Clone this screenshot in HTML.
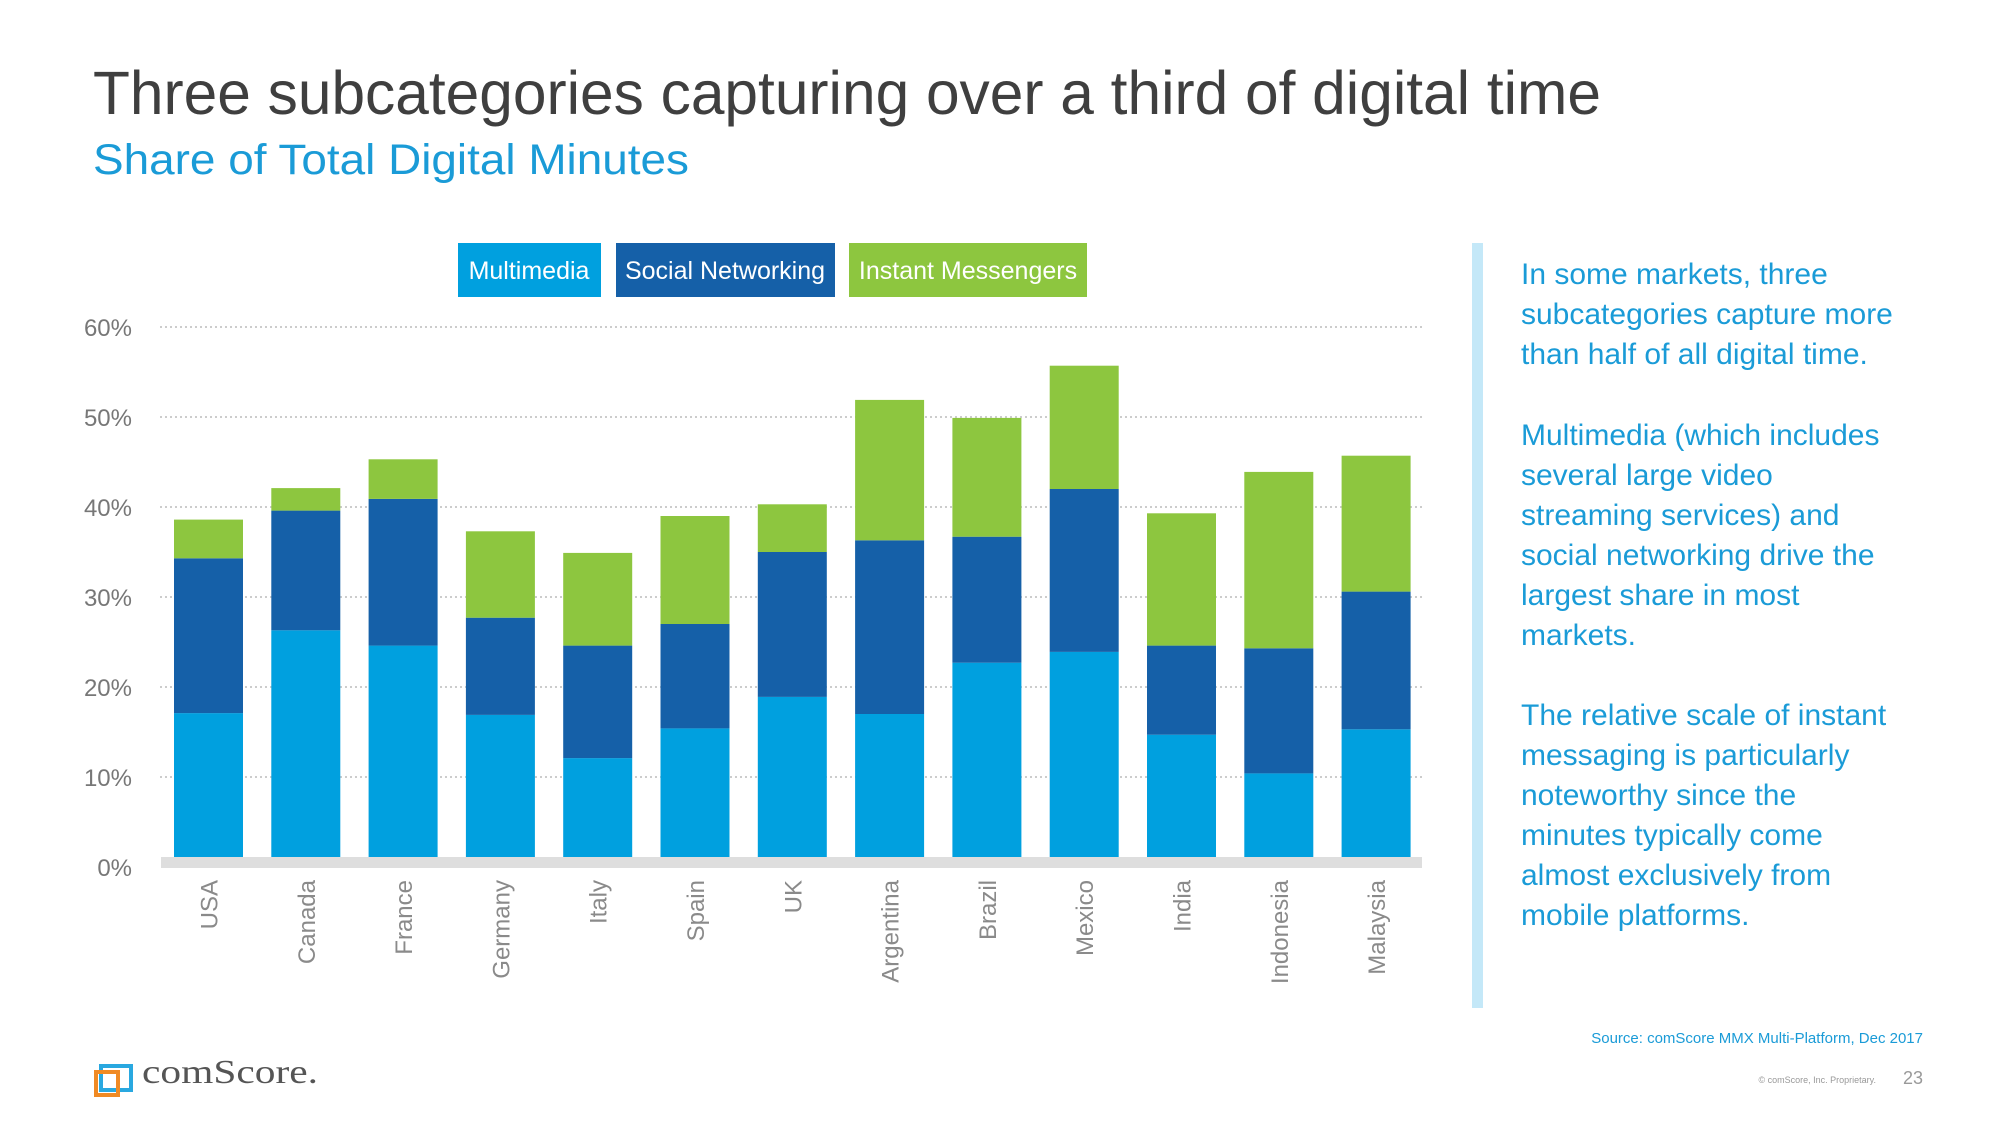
<!DOCTYPE html>
<html><head><meta charset="utf-8"><style>
html,body{margin:0;padding:0;background:#fff;}
svg{display:block;font-family:"Liberation Sans",sans-serif;}
</style></head><body>
<svg id="chart" width="2000" height="1125" viewBox="0 0 2000 1125">
<text x="93" y="114" font-size="61" fill="#3f3f3f" textLength="1508" lengthAdjust="spacingAndGlyphs">Three subcategories capturing over a third of digital time</text>
<text x="93" y="174" font-size="43" fill="#1a9bd7" textLength="596" lengthAdjust="spacingAndGlyphs">Share of Total Digital Minutes</text>
<g>
<rect x="458" y="243" width="143" height="54" fill="#00a0df"/>
<text x="529" y="279" font-size="25" fill="#fff" text-anchor="middle">Multimedia</text>
<rect x="616" y="243" width="219" height="54" fill="#1560a8"/>
<text x="725" y="279" font-size="25" fill="#fff" text-anchor="middle">Social Networking</text>
<rect x="849" y="243" width="238" height="54" fill="#8dc63f"/>
<text x="968" y="279" font-size="25" fill="#fff" text-anchor="middle">Instant Messengers</text>
</g>
<g id="grid"></g><g id="bars"></g><g id="labels"></g>
<rect x="1472" y="243" width="11" height="765" fill="#c4e8f8"/>
<g font-size="30" fill="#1a9bd7">
<text x="1521" y="284">In some markets, three</text>
<text x="1521" y="324">subcategories capture more</text>
<text x="1521" y="364">than half of all digital time.</text>
<text x="1521" y="445">Multimedia (which includes</text>
<text x="1521" y="485">several large video</text>
<text x="1521" y="525">streaming services) and</text>
<text x="1521" y="565">social networking drive the</text>
<text x="1521" y="605">largest share in most</text>
<text x="1521" y="645">markets.</text>
<text x="1521" y="725">The relative scale of instant</text>
<text x="1521" y="765">messaging is particularly</text>
<text x="1521" y="805">noteworthy since the</text>
<text x="1521" y="845">minutes typically come</text>
<text x="1521" y="885">almost exclusively from</text>
<text x="1521" y="925">mobile platforms.</text>
</g>
<text x="1923" y="1043" font-size="15" fill="#1a9bd7" text-anchor="end">Source: comScore MMX Multi-Platform, Dec 2017</text>
<text x="1876" y="1083" font-size="9" fill="#999" text-anchor="end">© comScore, Inc. Proprietary.</text>
<text x="1923" y="1084" font-size="18" fill="#999" text-anchor="end">23</text>
<g>
<path d="M101 1066 h30 v24 h-30 z" fill="none" stroke="#29a8e0" stroke-width="4"/>
<path d="M96 1072 h22 v23 h-22 z" fill="none" stroke="#f08a24" stroke-width="4"/>
<text x="142" y="1083" font-size="34" fill="#555" font-family="Liberation Serif,serif" textLength="176" lengthAdjust="spacingAndGlyphs">comScore.</text>
</g>
</svg>
<script>
const categories=["USA","Canada","France","Germany","Italy","Spain","UK","Argentina","Brazil","Mexico","India","Indonesia","Malaysia"];
const multimedia=[17.1,26.3,24.6,16.9,12.1,15.4,18.9,17.0,22.7,23.9,14.7,10.4,15.3];
const socialNetworking=[17.2,13.3,16.3,10.8,12.5,11.6,16.1,19.3,14.0,18.1,9.9,13.9,15.3];
const instantMessengers=[4.3,2.5,4.4,9.6,10.3,12.0,5.3,15.6,13.2,13.7,14.7,19.6,15.1];
const yTicks=[0,10,20,30,40,50,60];
const tickLabels=["0%","10%","20%","30%","40%","50%","60%"];
const NS="http://www.w3.org/2000/svg";
const y=v=>867-v*9.0;
const x=i=>174+i*97.3;
const bw=69;
function mk(tag,attrs,parent){const e=document.createElementNS(NS,tag);for(const k in attrs)e.setAttribute(k,attrs[k]);parent.appendChild(e);return e;}
const grid=document.getElementById('grid'),bars=document.getElementById('bars'),labels=document.getElementById('labels');
yTicks.forEach((t,i)=>{
  if(t>0){const l=mk('line',{x1:160,x2:1422,y1:y(t),y2:y(t),stroke:'#ccc','stroke-width':2,'stroke-dasharray':'2 3'},grid);
  
  }
  const tx=mk('text',{x:132,y:y(t)+9,'font-size':24,fill:'#777','text-anchor':'end'},grid);
  tx.textContent=tickLabels[i];
  
  
});
const series=[[multimedia,'#00a0df','multimedia'],[socialNetworking,'#1560a8','social'],[instantMessengers,'#8dc63f','im']];
categories.forEach((c,i)=>{
  let base=0;
  series.forEach(([arr,col,nm])=>{
    const v=arr[i];
    const r=mk('rect',{x:x(i),y:y(base+v),width:bw,height:y(base)-y(base+v),fill:col},bars);
    
    
    base+=v;
  });
  const cx=x(i)+bw/2+9;
  const t=mk('text',{x:cx,y:880,'font-size':24,fill:'#8a8a8a','text-anchor':'end',transform:`rotate(-90 ${cx} 880)`},labels);
  t.textContent=c;
  
  
});
const band=mk('rect',{x:161,y:857,width:1261,height:11,fill:'#dedede'},bars);


</script>
</body></html>
